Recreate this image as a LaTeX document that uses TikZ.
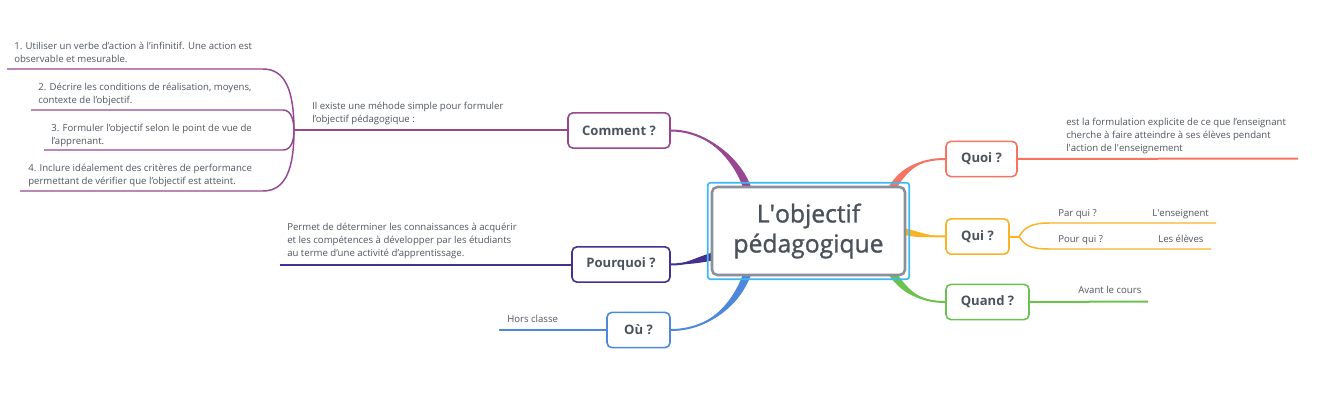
\documentclass[tikz,border=0pt]{standalone}
\usepackage{fontspec}
\setmainfont{Open Sans}
\usetikzlibrary{calc}
\pgfdeclarelayer{bg}
\pgfsetlayers{bg,main}
\definecolor{txtc}{HTML}{50565F}
\definecolor{ctr}{HTML}{4A525C}
\definecolor{cgray}{HTML}{8A8F99}
\definecolor{cblue}{HTML}{3DB9F2}
\definecolor{cpurple}{HTML}{974791}
\definecolor{cindigo}{HTML}{44308F}
\definecolor{cbluec}{HTML}{4E88DA}
\definecolor{ccoral}{HTML}{F57462}
\definecolor{camber}{HTML}{F8B424}
\definecolor{cgreen}{HTML}{6CC24F}
\newcommand\taperlink[6]{%
  \fill[#1] ($#2+#6$) .. controls ($#3+#6$) and #4 .. #5 .. controls #4 and ($#3-#6$) .. ($#2-#6$) -- cycle;
  \draw[#1, line width=1.5pt] #2 .. controls #3 and #4 .. #5;}
\begin{document}
\begin{tikzpicture}[x=0.75pt,y=-0.75pt,
  topic/.style={draw, fill=white, rounded corners=3.75pt, line width=1.2pt, text=ctr,
    font=\bfseries\fontsize{9.8}{12}\selectfont, inner sep=0pt, minimum height=26.5pt},
  note/.style={font=\fontsize{7.2}{9.75}\selectfont, text=txtc, align=left, inner sep=0pt, anchor=north west},
  sub/.style={line width=1.1pt},
  main/.style={line width=1.5pt}]
\useasboundingbox (0,0) rectangle (1329,403);
\begin{pgfonlayer}{bg}
\fill[white] (0,0) rectangle (1329,403);
\end{pgfonlayer}

% central node
\node[draw=cgray, fill=white, line width=1.9pt, rounded corners=4pt, minimum width=144.75pt,
  minimum height=66pt, align=center, text=ctr, font=\fontsize{18.5}{22.5}\selectfont\addfontfeature{FakeBold=1.2},
  inner sep=0pt] (c) at (808.5,231) {L\textquotesingle objectif\\pédagogique};
\draw[cblue, line width=1.2pt, rounded corners=2pt] ($(c.north west)+(-3,-3)$) rectangle ($(c.south east)+(3,3)$);

% topic nodes
\node[topic, draw=cpurple, minimum width=76.5pt] (com) at (619,130.5) {Comment ?};
\node[topic, draw=cindigo, minimum width=73.5pt] (pq) at (621,264.5) {Pourquoi ?};
\node[topic, draw=cbluec, minimum width=47.25pt] (ou) at (638.5,330) {Où ?};
\node[topic, draw=ccoral, minimum width=53.25pt] (quoi) at (981.5,159) {Quoi ?};
\node[topic, draw=camber, minimum width=47.25pt] (qui) at (977.5,236.5) {Qui ?};
\node[topic, draw=cgreen, minimum width=62.25pt] (qd) at (987.5,302) {Quand ?};

% connectors from centre
\begin{pgfonlayer}{bg}
\taperlink{cpurple}{($(c.north)+(-60,6)$)}{(739,160)}{(708,130.5)}{(com.east)}{(3.8,-1)}
\taperlink{cindigo}{($(c.west)+(8,24)$)}{(698,260)}{(686,264.5)}{(pq.east)}{(1,3.8)}
\taperlink{cbluec}{($(c.south)+(-60,-6)$)}{(736,308)}{(706,330)}{(ou.east)}{(3.8,1)}
\taperlink{ccoral}{($(c.north east)+(-16,6)$)}{(903,168)}{(920,159)}{(quoi.west)}{(3.2,2)}
\taperlink{camber}{($(c.east)+(-8,-1)$)}{(922,236)}{(930,236.5)}{(qui.west)}{(0,3.5)}
\taperlink{cgreen}{($(c.south east)+(-16,-6)$)}{(904,292)}{(920,302)}{(qd.west)}{(-3.2,2)}
\end{pgfonlayer}

% Comment branch
\coordinate (k) at (294,130.5);
\coordinate (l1a) at (7,69);   \coordinate (l1b) at (263,69);
\coordinate (l2a) at (31,110); \coordinate (l2b) at (283,110);
\coordinate (l3a) at (44,150); \coordinate (l3b) at (283,150);
\coordinate (l4a) at (20,191); \coordinate (l4b) at (263,191);
\draw[cpurple, main] (k) -- (com.west);
\draw[cpurple, sub] (l1a) -- (l1b) .. controls (286,69) and (294,92) .. (k);
\draw[cpurple, sub] (l2a) -- (l2b) .. controls (291,110) and (294,120) .. (k);
\draw[cpurple, sub] (l3a) -- (l3b) .. controls (291,150) and (294,141) .. (k);
\draw[cpurple, sub] (l4a) -- (l4b) .. controls (286,191) and (294,168) .. (k);
\node[note] (tcom) at (312,100) {\strut Il existe une méhode simple pour formuler\\l’objectif pédagogique :};
\node[note] (t1) at (14,39.7) {\strut 1. Utiliser un verbe d’action à l’infinitif. Une action est\\observable et mesurable.};
\node[note] (t2) at (38,81.3) {\strut 2. Décrire les conditions de réalisation, moyens,\\contexte de l’objectif.};
\node[note] (t3) at (51,121.7) {\strut 3. Formuler l’objectif selon le point de vue de\\l’apprenant.};
\node[note] (t4) at (28,161.7) {\strut 4. Inclure idéalement des critères de performance\\permettant de vérifier que l’objectif est atteint.};

% Pourquoi branch
\coordinate (pqe) at (280,264.5);
\draw[cindigo, main] (pq.west) -- (pqe);
\node[note] (tpq) at (287,220.7) {\strut Permet de déterminer les connaissances à acquérir\\et les compétences à développer par les étudiants\\au terme d’une activité d’apprentissage.};

% Où branch
\coordinate (oue) at (499,330);
\draw[cbluec, main] (ou.west) -- (oue);
\node[note] (tou) at (507,313) {\strut Hors classe};

% Quoi branch
\coordinate (quoie) at (1298,158.5);
\draw[ccoral, main] (quoi.east) -- (quoie);
\node[note] (tquoi) at (1066,116) {\strut est la formulation explicite de ce que l’enseignant\\cherche à faire atteindre à ses élèves pendant\\l\textquotesingle action de l\textquotesingle enseignement};

% Qui branch
\coordinate (q) at (1019,236.5);
\coordinate (qa) at (1216,223);
\coordinate (qb) at (1211,249);
\draw[camber, main] (qui.east) -- (q);
\draw[camber, sub] (q) .. controls (1025,227) and (1031,223) .. (1050,223) -- (qa);
\draw[camber, sub] (q) .. controls (1025,246) and (1031,249) .. (1050,249) -- (qb);
\node[note] (tpar) at (1058,206.7) {\strut Par qui ?};
\node[note] (tens) at (1152,206.7) {\strut L\textquotesingle enseignent};
\node[note] (tpour) at (1058,232.7) {\strut Pour qui ?};
\node[note] (tele) at (1158,232.7) {\strut Les élèves};

% Quand branch
\coordinate (qde) at (1148,301.5);
\draw[cgreen, main] (qd.east) -- (qde);
\node[note] (tqd) at (1078,284) {\strut Avant le cours};
\end{tikzpicture}
\end{document}
